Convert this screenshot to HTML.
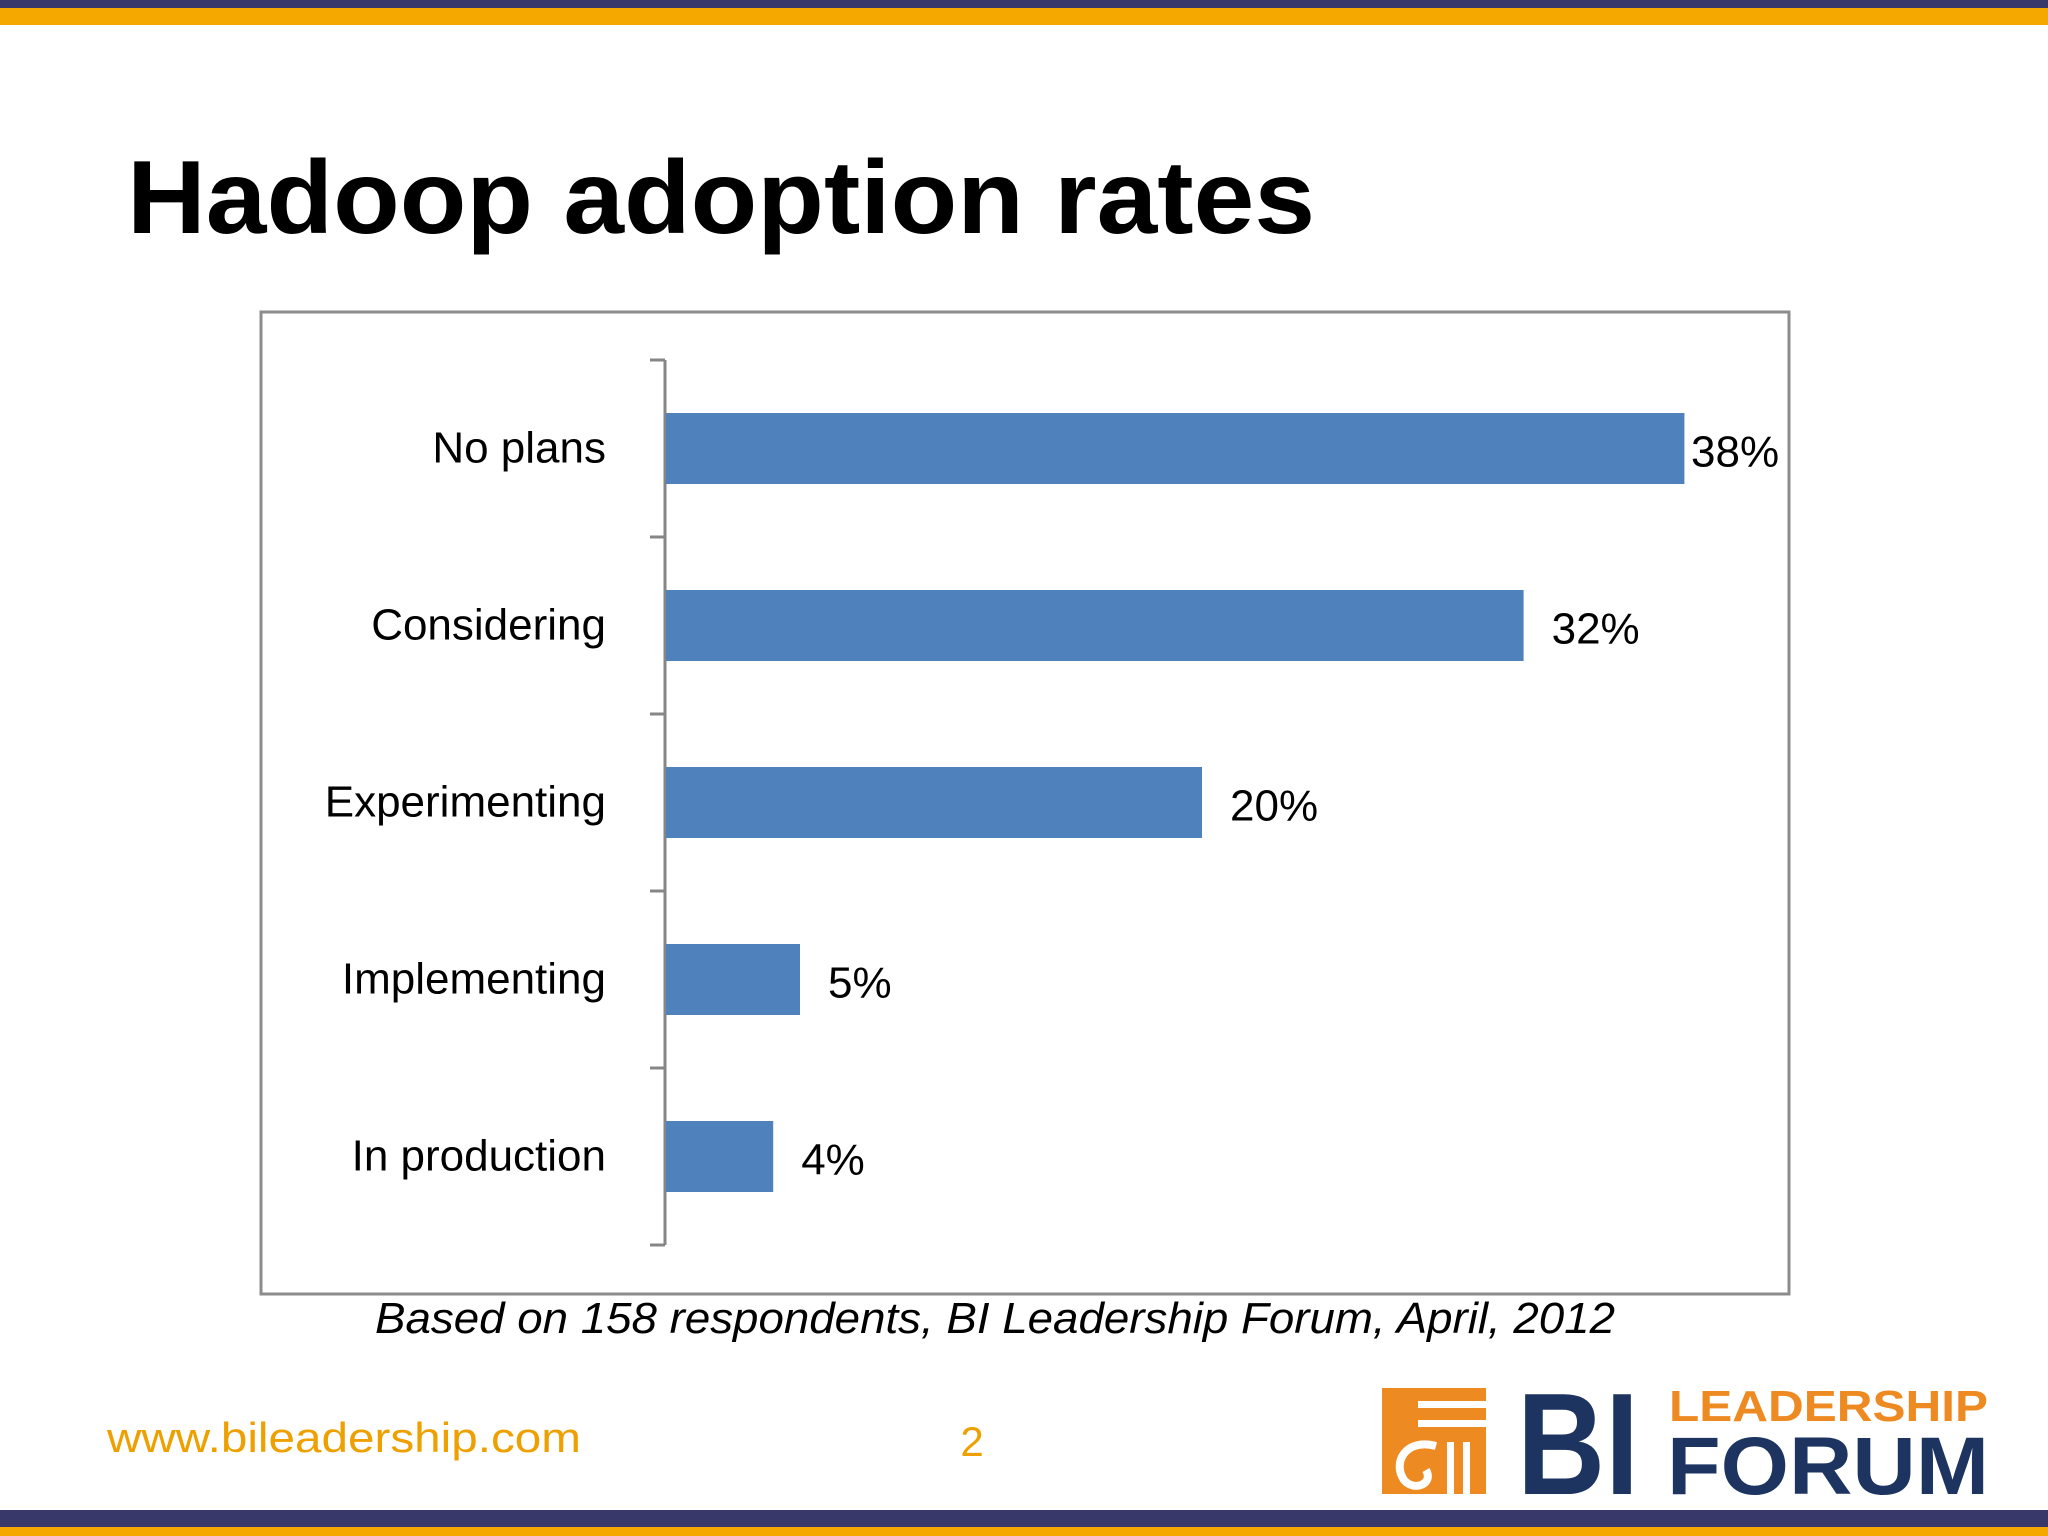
<!DOCTYPE html>
<html><head><meta charset="utf-8"><style>
html,body{margin:0;padding:0;background:#fff}
svg{display:block}
text{font-family:"Liberation Sans",sans-serif}
</style></head><body>
<svg width="2048" height="1536" viewBox="0 0 2048 1536">
<rect x="0" y="0" width="2048" height="8" fill="#38386b"/>
<rect x="0" y="8" width="2048" height="17" fill="#f5a800"/>
<rect x="0" y="1510" width="2048" height="17" fill="#38386b"/>
<rect x="0" y="1527" width="2048" height="9" fill="#f5a800"/>
<text x="127" y="233" font-size="104" font-weight="bold" fill="#000" textLength="1188" lengthAdjust="spacingAndGlyphs">Hadoop adoption rates</text>
<rect x="261" y="312" width="1528" height="982" fill="#fff" stroke="#8c8c8c" stroke-width="3"/>
<g id="chart"></g>
<text x="995" y="1333" font-size="44" font-style="italic" text-anchor="middle" fill="#000" textLength="1240" lengthAdjust="spacingAndGlyphs">Based on 158 respondents, BI Leadership Forum, April, 2012</text>
<text x="107" y="1452" font-size="42" fill="#eea000" textLength="474" lengthAdjust="spacingAndGlyphs">www.bileadership.com</text>
<text x="972" y="1456" font-size="42" fill="#eea000" text-anchor="middle">2</text>
<g>
<rect x="1382" y="1388" width="104" height="106" fill="#ee8a22"/>
<rect x="1418" y="1401" width="68" height="7" fill="#fff"/>
<rect x="1418" y="1420" width="68" height="7" fill="#fff"/>
<rect x="1447" y="1442" width="7" height="52" fill="#fff"/>
<rect x="1463" y="1442" width="7" height="52" fill="#fff"/>
<path d="M1436 1446 C1406 1438 1392 1462 1404 1480 C1414 1492 1434 1484 1426 1470" stroke="#fff" stroke-width="8" fill="none"/>
<text x="1517" y="1494" font-size="145" font-weight="bold" fill="#1d3461" textLength="122" lengthAdjust="spacingAndGlyphs">BI</text>
<text x="1669" y="1421" font-size="44" font-weight="bold" fill="#ee8a22" textLength="319" lengthAdjust="spacingAndGlyphs">LEADERSHIP</text>
<text x="1667" y="1494" font-size="82" font-weight="bold" fill="#1d3461" textLength="322" lengthAdjust="spacingAndGlyphs">FORUM</text>
</g>
</svg>
<script>
const categories = ["No plans","Considering","Experimenting","Implementing","In production"];
const values = [38,32,20,5,4];
const valueLabels = ["38%","32%","20%","5%","4%"];
(function(){
  const NS="http://www.w3.org/2000/svg";
  const g=document.getElementById('chart');
  const x0=666, pxPer=26.8, top=360, band=177, barH=71;
  const xs=v=>x0+v*pxPer;
  const yb=i=>top+i*band;
  function mk(t,a){const e=document.createElementNS(NS,t);for(const k in a)e.setAttribute(k,a[k]);g.appendChild(e);return e;}
  const ax=mk('line',{x1:x0-1,y1:top,x2:x0-1,y2:top+band*categories.length,stroke:'#868686','stroke-width':3});
  
  
  for(let i=0;i<=categories.length;i++){
    const t=mk('line',{x1:x0-16,y1:yb(i),x2:x0-1,y2:yb(i),stroke:'#868686','stroke-width':3});
    
    
  }
  categories.forEach((c,i)=>{
    const cy=yb(i)+band/2;
    const r=mk('rect',{x:x0,y:cy-barH/2,width:xs(values[i])-x0,height:barH,fill:'#4f81bd'});
    
    
    const l=mk('text',{x:606,y:cy+14,'font-size':44,'text-anchor':'end',fill:'#000'});
    l.textContent=c;
    
    
    const v=mk('text',{x:Math.min(xs(values[i])+28,1691),y:cy+18,'font-size':44,fill:'#000'});
    v.textContent=valueLabels[i];
    
    
  });
})();
</script>
</body></html>
